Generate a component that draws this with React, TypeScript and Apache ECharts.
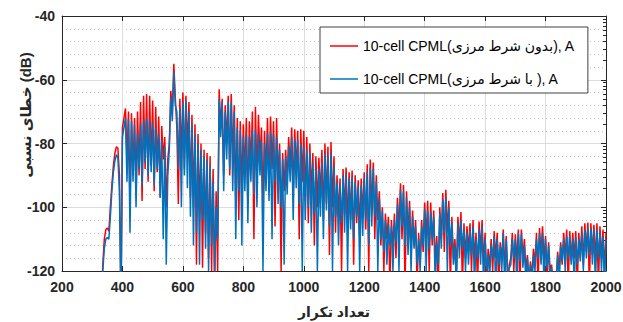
import React, { useEffect, useRef } from "react";
import * as echarts from "echarts";

// ---- data ----
// Peaks sampled at iterations 330, 340, ..., 2000; troughs at 335, 345, ..., 1995
const startIter = 330;
const peakStep = 10;

const redPeaks = [
  -130, -110, -106.5, -100, -87, -81, -90, -75, -69, -70,
  -70.5, -72, -70, -67, -65, -64.5, -65, -66.5, -68.5, -71.5,
  -74.5, -78, -85, -63.5, -55, -75, -66, -64, -65, -67,
  -71, -74, -77, -80, -82, -83, -84, -88, -95, -63,
  -66, -68, -65, -64.5, -68, -72, -73, -74, -72, -73,
  -70, -68.5, -71, -75, -76, -72, -71.5, -73, -72, -80,
  -83, -82, -78, -75, -75.5, -76, -75.5, -76, -78, -80,
  -83, -84, -84.5, -82, -80, -81, -79.5, -84, -90, -91,
  -88, -87.5, -89, -88.5, -90, -91.5, -91, -89, -86.5, -85,
  -86, -90, -95, -100, -102, -103, -104, -102, -97, -92.5,
  -93, -95, -98, -101, -104, -108, -104, -98.5, -98, -98.5,
  -101, -109, -100, -95.5, -94.5, -98, -103, -110, -103, -101.5,
  -105, -106, -105, -104, -108, -104.5, -104, -108, -113, -110,
  -107.5, -108, -111, -107, -109, -118, -108, -108.5, -107, -107,
  -110, -115, -117, -113, -108, -106.5, -106, -109, -111, -118,
  -120, -114, -111, -108, -107, -107.5, -108, -107.5, -108, -106,
  -105, -104.8, -105, -105.5, -105, -106, -107, -108,
];

const redTroughs = [
  -118, -107, -107.5, -93, -83, -81.5, -130, -72, -85, -99,
  -90, -93, -90, -98, -88, -92, -87, -95, -89, -97,
  -85, -100, -80, -70, -66, -99, -85, -88, -82, -97,
  -100, -118, -102, -119, -108, -116, -120, -125, -120, -75,
  -90, -80, -90, -85, -97, -104, -95, -90, -98, -88,
  -110, -92, -85, -100, -90, -95, -88, -106, -92, -120,
  -95, -92, -88, -96, -89, -110, -92, -98, -105, -96,
  -112, -100, -97, -104, -99, -115, -100, -108, -103, -120,
  -102, -106, -104, -118, -105, -108, -103, -107, -120, -101,
  -110, -104, -112, -120, -110, -125, -113, -116, -108, -110,
  -125, -109, -115, -112, -125, -118, -114, -110, -120, -112,
  -118, -125, -110, -114, -108, -125, -116, -120, -112, -125,
  -116, -114, -120, -117, -125, -114, -118, -125, -119, -120,
  -116, -125, -117, -120, -125, -116, -120, -117, -125, -116,
  -120, -125, -122, -118, -125, -115, -117, -125, -120, -125,
  -125, -120, -118, -116, -125, -117, -116, -125, -116, -118,
  -114, -125, -115, -117, -125, -116, -120,
];

const bluePeaks = [
  -130, -113, -109.5, -103, -89, -83.5, -95, -78, -72, -72.5,
  -73, -74, -77, -74, -72.5, -72, -72.5, -73.5, -75, -77,
  -79, -81, -90, -65.5, -57.5, -70, -69, -67, -66.5, -70,
  -74, -77, -80, -82, -84, -85, -87, -92, -100, -66,
  -67, -70, -67, -67, -70, -75, -76, -78, -77, -78,
  -76, -75.5, -77, -79, -80, -77, -76, -77, -78, -82,
  -85, -84, -81, -78, -78.5, -79, -80, -81, -82, -83,
  -86, -88, -88, -86, -83, -84, -83, -87, -92, -93,
  -90, -89.5, -91, -90.5, -92, -93.5, -93, -91, -89, -87.5,
  -88, -92, -97, -101, -104, -105, -106, -104, -99, -94.5,
  -95, -97, -100, -103, -106, -110, -106, -100.5, -101, -101.5,
  -103, -111, -102, -97.5, -97, -100, -105, -112, -105, -104,
  -107, -108, -107.5, -106, -110, -107, -106, -110, -115, -112,
  -109, -110, -112, -108, -110, -119, -110, -110, -108, -108.5,
  -112, -116, -118, -115, -110, -108, -108, -110, -112, -119,
  -121, -115, -112, -110, -109, -109, -110, -109.5, -110, -108,
  -107, -106.5, -106.5, -107, -107, -108, -109, -110,
];

const blueTroughs = [
  -120, -110, -110, -95, -85.5, -84.5, -130, -75, -92, -108,
  -92, -100, -88, -93, -86, -90, -89, -93, -88, -97,
  -110, -118, -82, -73, -68, -88, -100, -90, -94, -103,
  -112, -108, -118, -104, -113, -120, -112, -120, -110, -78,
  -95, -85, -88, -95, -110, -95, -112, -95, -105, -92,
  -96, -100, -90, -120, -95, -98, -110, -92, -99, -100,
  -118, -96, -92, -104, -94, -99, -120, -104, -100, -108,
  -102, -120, -103, -110, -101, -106, -120, -103, -112, -105,
  -108, -120, -107, -110, -103, -120, -109, -104, -112, -106,
  -103, -120, -110, -114, -118, -112, -120, -111, -120, -106,
  -112, -115, -120, -113, -118, -120, -112, -120, -113, -110,
  -125, -118, -113, -108, -120, -112, -118, -125, -116, -113,
  -120, -118, -115, -125, -116, -118, -125, -120, -122, -116,
  -125, -118, -120, -125, -121, -118, -116, -125, -117, -119,
  -125, -122, -125, -120, -116, -118, -125, -119, -122, -125,
  -122, -125, -117, -120, -116, -118, -125, -118, -117, -120,
  -116, -115, -118, -125, -116, -120, -125,
];

const xTickLabels = [200, 400, 600, 800, 1000, 1200, 1400, 1600, 1800, 2000];
const yTickLabels = [-120, -100, -80, -60, -40];

const redName = "10-cell CPML(بدون شرط مرزی), A";
const blueName = "10-cell CPML(با شرط مرزی ), A";
const xName = "تعداد تکرار";
const yName = "خطای نسبی (dB)";

// decorative log-style ticks on the right edge (4 decades)
const rightDecades = [0, 1, 2, 3];
const rightSub = [2, 3, 4, 5, 6, 7, 8, 9];

function buildSeries(peaks: number[], troughs: number[]) {
  const out: [number, number][] = [];
  for (let i = 0; i < peaks.length; i++) {
    out.push([startIter + i * peakStep, peaks[i]]);
    if (i < troughs.length) out.push([startIter + i * peakStep + peakStep / 2, troughs[i]]);
  }
  return out;
}

const FONT = "'Liberation Sans', Arial, 'DejaVu Sans', sans-serif";
const AX = "#262626";

export default function App() {
  const ref = useRef<HTMLDivElement>(null);
  useEffect(() => {
    if (!ref.current) return;
    const chart = echarts.init(ref.current, undefined, { renderer: "svg" });
    const minorRight: number[] = [];
    rightDecades.forEach((d) => rightSub.forEach((k) => minorRight.push(d + Math.log10(k))));
    const option: any = {
      animation: false,
      textStyle: { fontFamily: FONT },
      grid: { left: 62, right: 17, top: 16, bottom: 51, containLabel: false, outerBoundsMode: "none" },
      graphic: [
        {
          type: "text",
          x: 25,
          y: 115,
          rotation: Math.PI / 2,
          style: {
            text: yName,
            fill: AX,
            font: "bold 15px 'Liberation Sans', Arial, 'DejaVu Sans', sans-serif",
            align: "center",
            verticalAlign: "middle",
          },
        },
      ],
      legend: {
        left: 320,
        top: 27,
        orient: "vertical",
        backgroundColor: "#ffffff",
        borderColor: "#404040",
        borderWidth: 1,
        borderRadius: 0,
        padding: [11, 13, 6, 10],
        itemGap: 17,
        itemWidth: 28,
        itemHeight: 1.5,
        icon: "rect",
        textStyle: { fontSize: 14, lineHeight: 16, color: "#000", fontFamily: FONT },
        data: [redName, blueName],
      },
      xAxis: [
        {
          type: "value",
          min: 200,
          max: 2000,
          interval: 200,
          position: "bottom",
          name: xName,
          nameLocation: "middle",
          nameGap: 34,
          nameTextStyle: { fontSize: 14, fontWeight: "bold", color: AX, fontFamily: FONT },
          axisLine: { show: true, onZero: false, lineStyle: { color: AX, width: 1 } },
          axisTick: { show: true, inside: true, length: 5, lineStyle: { color: AX } },
          axisLabel: {
            fontSize: 14,
            fontWeight: "bold",
            color: AX,
            margin: 9,
            fontFamily: FONT,
            formatter: (v: number) => (xTickLabels.includes(v) ? String(v) : ""),
          },
          splitLine: { show: true, lineStyle: { color: "#dcdcdc", width: 1 } },
        },
        {
          type: "value",
          min: 200,
          max: 2000,
          interval: 200,
          position: "top",
          axisLine: { show: true, onZero: false, lineStyle: { color: AX, width: 1 } },
          axisTick: { show: true, inside: true, length: 5, lineStyle: { color: AX } },
          axisLabel: { show: false },
          splitLine: { show: false },
        },
      ],
      yAxis: [
        {
          type: "value",
          min: -120,
          max: -40,
          interval: 20,
          position: "left",
          axisLine: { show: true, onZero: false, lineStyle: { color: AX, width: 1 } },
          axisTick: { show: true, inside: true, length: 5, lineStyle: { color: AX } },
          axisLabel: {
            fontSize: 14,
            fontWeight: "bold",
            color: AX,
            margin: 7,
            fontFamily: FONT,
            formatter: (v: number) => (yTickLabels.includes(v) ? String(v) : ""),
          },
          splitLine: { show: true, lineStyle: { color: "#dcdcdc", width: 1 } },
          minorTick: { show: false, splitNumber: 5 },
          minorSplitLine: { show: true, lineStyle: { color: "#c4c4c4", width: 1, type: [1, 3] } },
        },
        {
          type: "value",
          min: 0,
          max: 4,
          interval: 1,
          position: "right",
          axisLine: { show: true, onZero: false, lineStyle: { color: AX, width: 1 } },
          axisTick: { show: true, inside: true, length: 5, lineStyle: { color: AX } },
          axisLabel: { show: false },
          splitLine: { show: false },
        },
        {
          type: "value",
          min: 0,
          max: 4,
          position: "right",
          axisLine: { show: false },
          axisTick: { show: true, inside: true, length: 3, lineStyle: { color: AX }, customValues: minorRight },
          axisLabel: { show: false, customValues: minorRight },
          splitLine: { show: false },
        },
      ],
      series: [
        {
          name: redName,
          type: "line",
          data: buildSeries(redPeaks, redTroughs),
          symbol: "none",
          clip: true,
          lineStyle: { color: "#ff0000", width: 1.5 },
          itemStyle: { color: "#ff0000" },
          z: 2,
        },
        {
          name: blueName,
          type: "line",
          data: buildSeries(bluePeaks, blueTroughs),
          symbol: "none",
          clip: true,
          lineStyle: { color: "#0072bd", width: 1.5 },
          itemStyle: { color: "#0072bd" },
          z: 3,
        },
      ],
    };
    chart.setOption(option);
    return () => chart.dispose();
  }, []);
  return (
    <div
      ref={ref}
      style={{ position: "fixed", left: 0, top: 0, width: 623, height: 322, background: "#fff" }}
    />
  );
}
